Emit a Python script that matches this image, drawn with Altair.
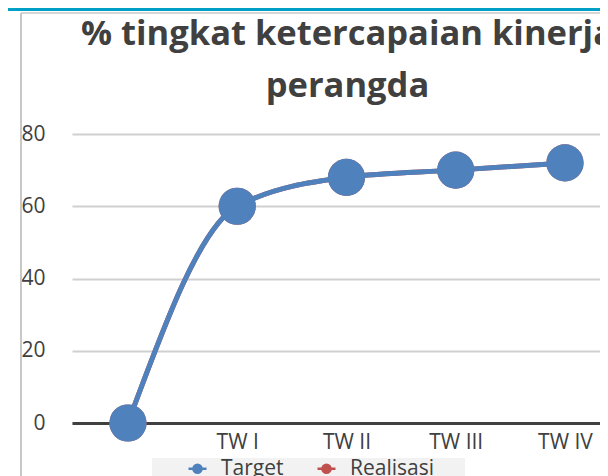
import altair as alt
import pandas as pd

categories = ["", "TW I", "TW II", "TW III", "TW IV"]
target = [0, 60, 68, 70, 72]
realisasi = [0, 60, 68, 70, 72]
series = ["Target", "Realisasi"]
colors = ["#4F81BD", "#C0504D"]
y_ticks = [0, 20, 40, 60, 80]
title_lines = ["% tingkat ketercapaian kinerja", "perangda"]

rows = []
for s, vals in (("Target", target), ("Realisasi", realisasi)):
    for c, v in zip(categories, vals):
        rows.append({"kategori": c, "nilai": v, "seri": s})
df = pd.DataFrame(rows)

FONT = "Open Sans"
TXT = "#404040"

x = alt.X(
    "kategori:N",
    sort=categories,
    scale=alt.Scale(type="point", padding=0.4165, align=0.615),
    axis=alt.Axis(
        title=None, labelAngle=0, ticks=False, grid=False,
        domainColor=TXT, domainWidth=3,
        labelFont=FONT, labelFontSize=21, labelColor=TXT, labelPadding=8,
    ),
)
y = alt.Y(
    "nilai:Q",
    scale=alt.Scale(domain=[0, 80]),
    axis=alt.Axis(
        title=None, values=y_ticks, domain=False, ticks=False,
        grid=True, gridColor="#D0D0D0", gridWidth=2,
        labelFont=FONT, labelFontSize=21, labelColor=TXT, labelPadding=27,
    ),
)
legend_path = ("M-1,0L1,0M-0.45,0A0.45,0.45,0,1,1,0.45,0"
               "A0.45,0.45,0,1,1,-0.45,0Z")
color = alt.Color(
    "seri:N",
    sort=series,
    scale=alt.Scale(domain=series, range=colors),
    legend=alt.Legend(
        title=None, orient="none", legendX=115, legendY=324,
        direction="horizontal", symbolType=legend_path, symbolSize=324,
        symbolStrokeWidth=2.5, labelFont=FONT, labelFontSize=21,
        labelColor=TXT, labelOffset=13, columnPadding=28, padding=0,
    ),
)

one = alt.Data(values=[{"d": 1}])
strip = alt.Chart(one).mark_rect(color="#00A0C6").encode(
    x=alt.value(-64), x2=alt.value(528), y=alt.value(-126), y2=alt.value(-123))
top_border = alt.Chart(one).mark_rule(color="#C8C8C8", strokeWidth=1.5).encode(
    x=alt.value(-51), x2=alt.value(528), y=alt.value(-121))
left_border = alt.Chart(one).mark_rule(color="#C8C8C8", strokeWidth=2).encode(
    x=alt.value(-51), y=alt.value(-121), y2=alt.value(348))
legend_bg = alt.Chart(one).mark_rect(color="#F2F2F2").encode(
    x=alt.value(80), x2=alt.value(393), y=alt.value(324), y2=alt.value(348))

title_kw = dict(font=FONT, fontSize=34.5, fontWeight="bold", color=TXT,
                align="center", baseline="alphabetic")
title1 = alt.Chart(one).mark_text(**title_kw).encode(
    text=alt.value(title_lines[0]), x=alt.value(275.5), y=alt.value(-89))
title2 = alt.Chart(one).mark_text(**title_kw).encode(
    text=alt.value(title_lines[1]), x=alt.value(275.5), y=alt.value(-37))

base = alt.Chart(df).encode(x=x, y=y, color=color)
red = base.transform_filter(alt.datum.seri == "Realisasi")
blue = base.transform_filter(alt.datum.seri == "Target")

line_kw = dict(strokeWidth=5, interpolate="monotone")
pt_kw = dict(filled=True, size=1385, opacity=1, shape="circle")

chart = alt.layer(
    strip, top_border, left_border, legend_bg, title1, title2,
    red.mark_line(**line_kw), red.mark_point(**pt_kw),
    blue.mark_line(**line_kw), blue.mark_point(**pt_kw),
).properties(
    width=528, height=289,
    padding={"left": 64, "top": 126, "right": 0, "bottom": 53},
    autosize=alt.AutoSizeParams(type="none"),
    background="white",
).configure_view(stroke=None)

chart.save("out.html", embed_options={"renderer": "svg", "actions": False})
